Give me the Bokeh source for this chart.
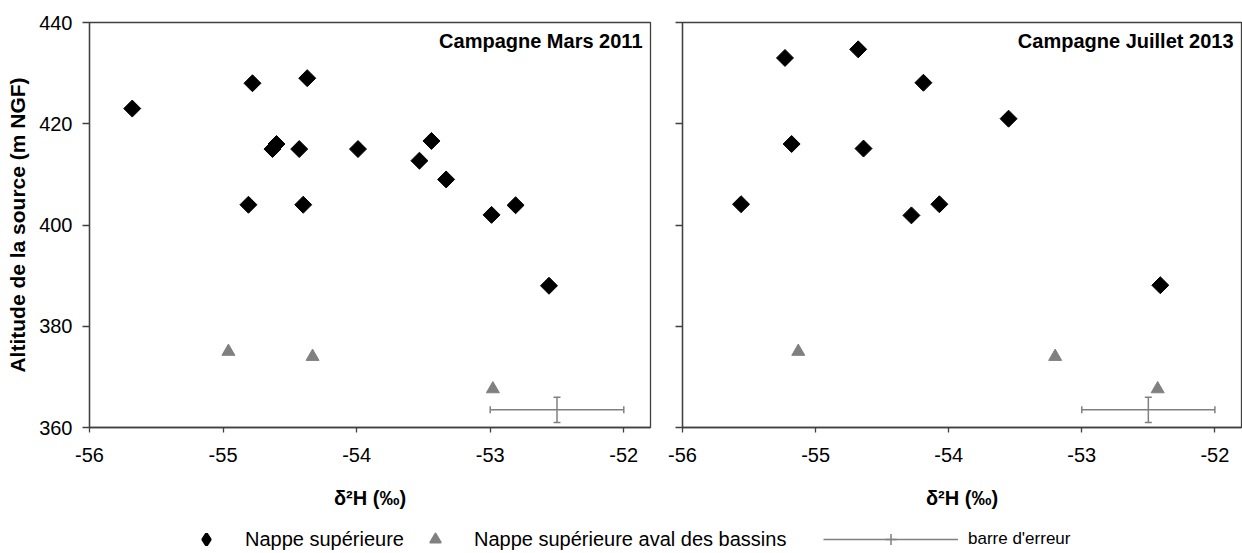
import numpy as np
from bokeh.plotting import figure
from bokeh.models import (Range1d, FixedTicker, ColumnDataSource, Whisker, TeeHead,
                          Label, Legend, LegendItem)
from bokeh.layouts import row, column
from bokeh.embed import file_html
from bokeh.resources import INLINE

# ---------------- data ----------------
x_ticks = [-56, -55, -54, -53, -52]
x_tick_labels = ["-56", "-55", "-54", "-53", "-52"]
y_ticks = [360, 380, 400, 420, 440]
y_tick_labels = ["360", "380", "400", "420", "440"]
x_limits = [-56, -51.8]
y_limits = [360, 440]

titles = ["Campagne Mars 2011", "Campagne Juillet 2013"]
series_names = ["Nappe supérieure", "Nappe supérieure aval des bassins", "barre d'erreur"]
x_label = "δ²H (‰)"
y_label = "Altitude de la source (m NGF)"

# Campagne Mars 2011
sup_2011_x = [-55.68, -54.78, -54.81, -54.63, -54.60, -54.43, -54.37, -54.40, -53.99,
              -53.53, -53.44, -53.33, -52.99, -52.81, -52.56]
sup_2011_y = [423, 428, 404, 415, 416, 415, 429, 404, 415,
              412.7, 416.6, 409, 402, 403.9, 388]
aval_2011_x = [-54.96, -54.33, -52.98]
aval_2011_y = [375, 374, 367.6]

# Campagne Juillet 2013
sup_2013_x = [-55.56, -55.23, -55.18, -54.68, -54.64, -54.28, -54.19, -54.07, -53.55, -52.41]
sup_2013_y = [404.1, 433, 416, 434.7, 415.1, 401.9, 428.1, 404.1, 421, 388.1]
aval_2013_x = [-55.13, -53.20, -52.43]
aval_2013_y = [375, 374, 367.6]

# error bar (centre and half widths)
err_x = [-52.5]
err_y = [363.5]
err_dx = [0.5]
err_dy = [2.5]

# ---------------- style ----------------
FONT = "Liberation Sans"
FRAME = "#404040"
GREY = "#808080"
MAIN_H = 525
LEG_H = 28


def err_source():
    return ColumnDataSource(dict(
        x=err_x, y=err_y,
        xl=[a - d for a, d in zip(err_x, err_dx)],
        xu=[a + d for a, d in zip(err_x, err_dx)],
        yl=[a - d for a, d in zip(err_y, err_dy)],
        yu=[a + d for a, d in zip(err_y, err_dy)],
    ))


def make_panel(width, min_left, min_right, first, title, sx, sy, ax, ay):
    p = figure(width=width, height=MAIN_H, output_backend="svg", toolbar_location=None,
               x_range=Range1d(*x_limits), y_range=Range1d(*y_limits),
               min_border_left=min_left, min_border_right=min_right,
               min_border_top=22, min_border_bottom=98)
    p.background_fill_color = "white"
    p.border_fill_color = "white"
    p.outline_line_color = FRAME
    p.outline_line_width = 1.3
    p.xgrid.visible = False
    p.ygrid.visible = False

    xa = p.xaxis[0]
    xa.ticker = FixedTicker(ticks=x_ticks)
    xa.major_label_overrides = {t: l for t, l in zip(x_ticks, x_tick_labels)}
    xa.major_tick_out = 5
    xa.major_tick_in = 0
    xa.minor_tick_line_color = None
    xa.axis_line_color = FRAME
    xa.axis_line_width = 1.3
    xa.major_tick_line_color = FRAME
    xa.major_tick_line_width = 1.3
    xa.major_label_standoff = 15
    xa.major_label_text_font = FONT
    xa.major_label_text_font_size = "20px"
    xa.major_label_text_color = "black"
    xa.axis_label = x_label
    xa.axis_label_standoff = 22
    xa.axis_label_text_font = FONT
    xa.axis_label_text_font_size = "20px"
    xa.axis_label_text_font_style = "bold"
    xa.axis_label_text_color = "black"

    ya = p.yaxis[0]
    ya.ticker = FixedTicker(ticks=y_ticks)
    ya.major_tick_out = 7
    ya.major_tick_in = 0
    ya.minor_tick_line_color = None
    ya.axis_line_color = FRAME
    ya.axis_line_width = 1.3
    ya.major_tick_line_color = FRAME
    ya.major_tick_line_width = 1.3
    if first:
        ya.major_label_overrides = {t: l for t, l in zip(y_ticks, y_tick_labels)}
        ya.major_label_standoff = 10
        ya.major_label_text_font = FONT
        ya.major_label_text_font_size = "20px"
        ya.major_label_text_color = "black"
        ya.axis_label = y_label
        ya.axis_label_standoff = 7
        ya.axis_label_text_font = FONT
        ya.axis_label_text_font_size = "21px"
        ya.axis_label_text_font_style = "bold"
        ya.axis_label_text_color = "black"
    else:
        ya.major_label_text_font_size = "1px"
        ya.major_label_text_color = None
        ya.major_label_standoff = 0

    # error bar
    src = err_source()
    p.add_layout(Whisker(source=src, base="y", lower="xl", upper="xu", dimension="width",
                         line_color=GREY, line_width=1.5,
                         lower_head=TeeHead(size=7, line_color=GREY, line_width=1.5),
                         upper_head=TeeHead(size=7, line_color=GREY, line_width=1.5)))
    p.add_layout(Whisker(source=src, base="x", lower="yl", upper="yu", dimension="height",
                         line_color=GREY, line_width=1.5,
                         lower_head=TeeHead(size=7, line_color=GREY, line_width=1.5),
                         upper_head=TeeHead(size=7, line_color=GREY, line_width=1.5)))

    p.scatter(ax, ay, marker="triangle", size=13, fill_color=GREY, line_color=GREY)
    p.scatter(sx, sy, marker="square", size=12, angle=np.pi / 4,
              fill_color="black", line_color="black")

    p.add_layout(Label(x=x_limits[1], y=y_limits[1], x_offset=-8, y_offset=-7,
                       text=title, text_align="right", text_baseline="top",
                       text_font=FONT, text_font_style="bold", text_font_size="20px",
                       text_color="black"))
    return p


p1 = make_panel(660, 89, 10, True, titles[0], sup_2011_x, sup_2011_y, aval_2011_x, aval_2011_y)
p2 = make_panel(582, 22, 1, False, titles[1], sup_2013_x, sup_2013_y, aval_2013_x, aval_2013_y)

# ---------------- legend strip ----------------
pl = figure(width=1242, height=LEG_H, output_backend="svg", toolbar_location=None,
            x_range=Range1d(0, 1), y_range=Range1d(0, 1),
            x_axis_type=None, y_axis_type=None,
            min_border_left=0, min_border_right=0, min_border_top=0, min_border_bottom=0)
pl.outline_line_color = None
pl.xgrid.visible = False
pl.ygrid.visible = False
pl.background_fill_color = "white"
pl.border_fill_color = "white"

r_sup = pl.scatter(sup_2011_x, sup_2011_y, marker="diamond", size=12,
                   fill_color="black", line_color="black", line_width=3)
r_aval = pl.scatter(aval_2011_x, aval_2011_y, marker="triangle", size=12,
                    fill_color=GREY, line_color=GREY, line_width=1.5)
lsrc = err_source()
r_seg = pl.segment(x0="xl", y0="y", x1="xu", y1="y", source=lsrc,
                   line_color=GREY, line_width=1.5)
r_cross = pl.scatter(x="x", y="y", source=lsrc, marker="cross", size=12,
                     line_color=GREY, line_width=1.5)

leg1 = Legend(items=[LegendItem(label=series_names[0], renderers=[r_sup]),
                     LegendItem(label=series_names[1], renderers=[r_aval])],
              location=(186, 0), orientation="horizontal",
              glyph_width=40, glyph_height=LEG_H, label_height=LEG_H,
              label_standoff=19, spacing=11, padding=0, margin=0,
              border_line_alpha=0, background_fill_alpha=0,
              label_text_font=FONT, label_text_font_size="20px", label_text_color="black")
leg2 = Legend(items=[LegendItem(label=series_names[2], renderers=[r_seg, r_cross])],
              location=(823, 0), orientation="horizontal",
              glyph_width=135, glyph_height=LEG_H, label_height=LEG_H,
              label_standoff=10, padding=0, margin=0,
              border_line_alpha=0, background_fill_alpha=0,
              label_text_font=FONT, label_text_font_size="17px", label_text_color="black")
pl.add_layout(leg1)
pl.add_layout(leg2)

layout = column(row(p1, p2), pl)

open("out.html", "w").write(file_html(layout, INLINE))
